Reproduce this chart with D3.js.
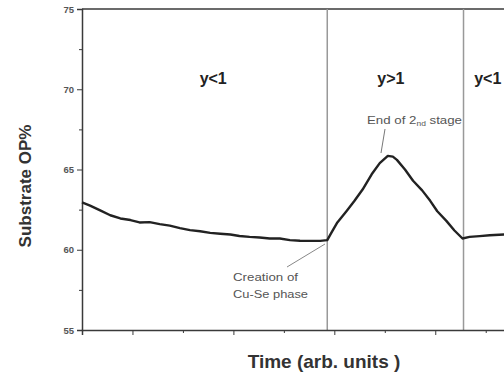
<!DOCTYPE html>
<html>
<head>
<meta charset="utf-8">
<script src="https://cdn.jsdelivr.net/npm/d3@7"></script>
<style>
  html, body { margin: 0; padding: 0; background: #fff; }
  svg { display: block; font-family: "Liberation Sans", Arial, sans-serif; }
</style>
</head>
<body>
<svg id="chart" width="504" height="377"></svg>
<script>
// Measured substrate optical power over the deposition run
const time = [0, 0.08, 0.18, 0.28, 0.38, 0.48, 0.57, 0.67, 0.77, 0.87, 0.97, 1.07, 1.17, 1.27, 1.37,
  1.47, 1.56, 1.66, 1.76, 1.86, 1.96, 2.06, 2.16, 2.26, 2.36, 2.43, 2.47, 2.53, 2.62, 2.70, 2.78,
  2.87, 2.95, 3.03, 3.08, 3.12, 3.20, 3.28, 3.37, 3.45, 3.52, 3.61, 3.69, 3.77, 3.84, 3.94, 4.04,
  4.18, 4.29];
const op = [62.95, 62.75, 62.45, 62.15, 61.95, 61.85, 61.7, 61.72, 61.6, 61.5, 61.35, 61.22, 61.15,
  61.05, 61.0, 60.95, 60.86, 60.8, 60.76, 60.7, 60.7, 60.6, 60.56, 60.55, 60.55, 60.6, 61.05, 61.7,
  62.4, 63.05, 63.75, 64.7, 65.4, 65.85, 65.8, 65.6, 65.0, 64.3, 63.7, 63.05, 62.4, 61.8, 61.2,
  60.7, 60.8, 60.85, 60.9, 60.95, 61.0];

// Stage boundaries and region labels
const boundaries = [2.43, 3.78];
const regions = [
  { label: "y<1", t: 1.30 },
  { label: "y>1", t: 3.06 },
  { label: "y<1", t: 4.02 }
];
const yTicks = [55, 60, 65, 70, 75];
const yMinor = [57.5, 62.5, 67.5, 72.5];
const xMajor = [0.5, 1.5, 2.5, 3.5];
const xMinor = [1, 2, 3, 4];

const svg = d3.select("#chart");
const x = d3.scaleLinear().domain([0, 4.3]).range([82, 516]);
const y = d3.scaleLinear().domain([55, 75]).range([330, 9]);
const axisColor = "#3a3a3a";

// Frame top
svg.append("line").attr("x1", x(0)).attr("x2", 504).attr("y1", y(75)).attr("y2", y(75))
  .attr("stroke", axisColor).attr("stroke-width", 1.5);

// Stage boundary lines
svg.selectAll(".bound").data(boundaries).join("line")
  .attr("x1", d => x(d)).attr("x2", d => x(d)).attr("y1", y(75)).attr("y2", y(55))
  .attr("stroke", "#999").attr("stroke-width", 1.5);

// Y axis
const yAxis = svg.append("g").attr("transform", `translate(${x(0)},0)`)
  .call(d3.axisLeft(y).tickValues(yTicks).tickSize(5).tickPadding(3));
yAxis.select(".domain").attr("stroke", axisColor).attr("stroke-width", 1.5);
yAxis.selectAll(".tick line").attr("stroke", axisColor);
yAxis.selectAll(".tick text").attr("font-size", 9.5).attr("font-weight", "bold").attr("fill", "#555");
svg.append("g").attr("transform", `translate(${x(0)},0)`)
  .call(d3.axisLeft(y).tickValues(yMinor).tickSize(3).tickFormat(""))
  .call(g => g.select(".domain").remove())
  .selectAll(".tick line").attr("stroke", axisColor);

// X axis
const xAxis = svg.append("g").attr("transform", `translate(0,${y(55)})`)
  .call(d3.axisBottom(x).tickValues(xMajor).tickSize(5).tickFormat(""));
xAxis.select(".domain").attr("stroke", axisColor).attr("stroke-width", 1.5);
xAxis.selectAll(".tick line").attr("stroke", axisColor);
svg.append("g").attr("transform", `translate(0,${y(55)})`)
  .call(d3.axisBottom(x).tickValues(xMinor).tickSize(3).tickFormat(""))
  .call(g => g.select(".domain").remove())
  .selectAll(".tick line").attr("stroke", axisColor);

// Signal curve
const line = d3.line().x((d, i) => x(time[i])).y(d => y(d)).curve(d3.curveLinear);
svg.append("path").datum(op).attr("d", line)
  .attr("fill", "none").attr("stroke", "#222").attr("stroke-width", 2.4)
  .attr("stroke-linejoin", "round");

// Region labels
svg.selectAll(".region").data(regions).join("text")
  .attr("x", d => x(d.t)).attr("y", 84).attr("text-anchor", "middle")
  .attr("font-size", 16).attr("font-weight", "bold").attr("fill", "#222")
  .text(d => d.label);

// Annotations
const ann = "#555";
const endText = svg.append("text").attr("x", 367).attr("y", 124)
  .attr("font-size", 11).attr("fill", ann)
  .attr("textLength", 95).attr("lengthAdjust", "spacingAndGlyphs");
endText.append("tspan").text("End of 2");
endText.append("tspan").attr("font-size", 7).attr("dy", 1.5).text("nd");
endText.append("tspan").attr("dy", -1.5).text(" stage");
svg.append("line").attr("x1", 385).attr("y1", 129).attr("x2", 381).attr("y2", 153)
  .attr("stroke", "#777").attr("stroke-width", 1);

svg.append("text").attr("x", 233).attr("y", 281)
  .attr("font-size", 11).attr("fill", ann)
  .attr("textLength", 65).attr("lengthAdjust", "spacingAndGlyphs").text("Creation of");
svg.append("text").attr("x", 233).attr("y", 298)
  .attr("font-size", 11).attr("fill", ann)
  .attr("textLength", 75).attr("lengthAdjust", "spacingAndGlyphs").text("Cu-Se phase");
svg.append("line").attr("x1", 287).attr("y1", 267).attr("x2", 325).attr("y2", 244)
  .attr("stroke", "#888").attr("stroke-width", 1);

// Axis titles
svg.append("text").attr("transform", "translate(31,186) rotate(-90)").attr("text-anchor", "middle")
  .attr("font-size", 17).attr("font-weight", "bold").attr("fill", "#333").text("Substrate OP%");
svg.append("text").attr("x", 324).attr("y", 368).attr("text-anchor", "middle")
  .attr("font-size", 19).attr("font-weight", "bold").attr("fill", "#333").text("Time (arb. units )");
</script>
</body>
</html>
